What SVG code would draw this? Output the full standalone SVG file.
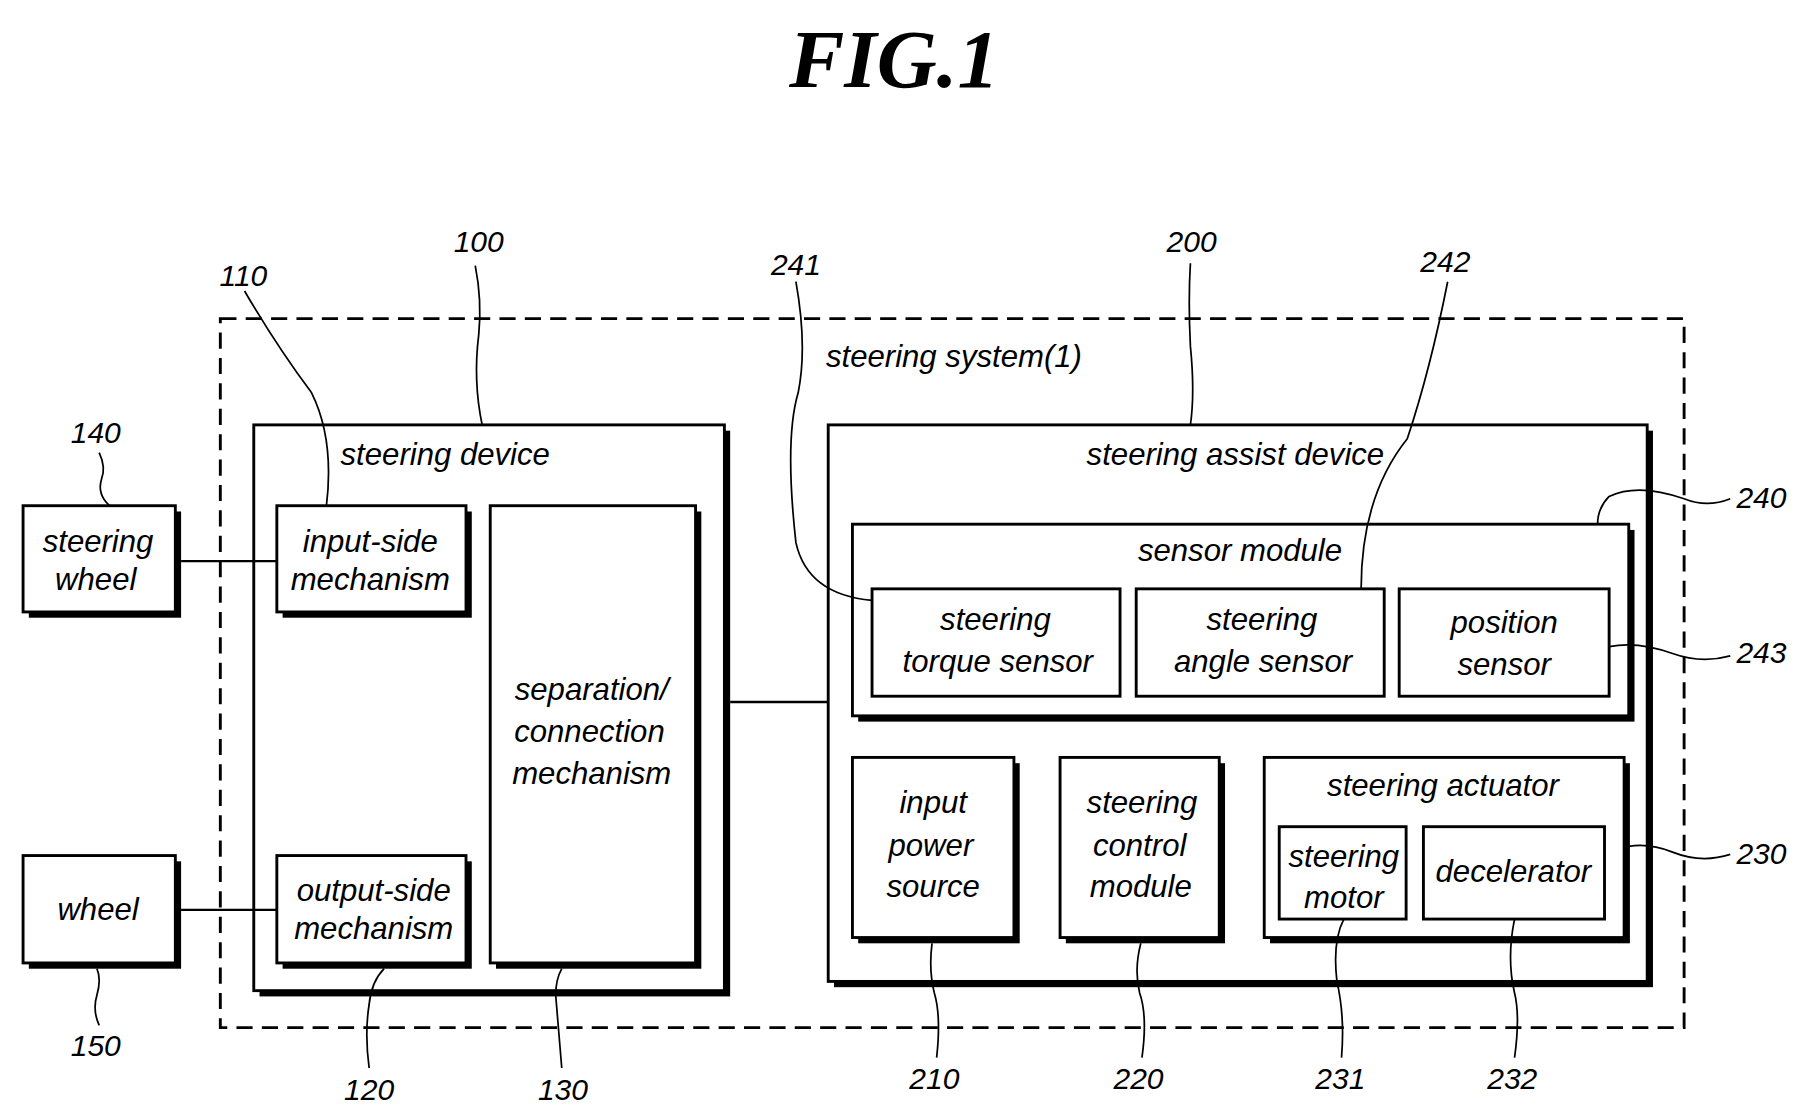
<svg xmlns="http://www.w3.org/2000/svg" width="1804" height="1120" viewBox="0 0 1804 1120">
<defs><style>
.b{fill:#fff;stroke:#000;stroke-width:2.5}
.s{fill:#000}
.t{font-family:"Liberation Sans",Arial,sans-serif;font-style:italic;font-size:27px;text-anchor:middle;fill:#000}
.n{font-family:"Liberation Sans",Arial,sans-serif;font-style:italic;font-size:26px;text-anchor:middle;fill:#000}
.l{fill:none;stroke:#000;stroke-width:1.5}
.c{fill:none;stroke:#000;stroke-width:2}
</style></defs>
<rect width="1804" height="1120" fill="#fff"/>
<g transform="scale(1.1535,1.1546)">
<text x="775" y="75" text-anchor="middle" font-family="Liberation Serif,serif" font-style="italic" font-weight="bold" font-size="72">FIG.1</text>
<g id="system"><rect x="191" y="276" width="1269" height="614" fill="none" stroke="#000" stroke-width="2.5" stroke-dasharray="14,8"/>
<text class="t" x="827" y="318">steering system(1)</text></g>
<g id="n100"><rect class="s" x="225" y="373" width="408" height="490"/><rect class="b" x="220" y="368" width="408" height="490"/><text class="t" x="386" y="403">steering device</text></g>
<g id="n110"><rect class="s" x="245" y="443" width="164" height="92"/><rect class="b" x="240" y="438" width="164" height="92"/><text class="t" x="321" y="478">input-side</text><text class="t" x="321" y="511">mechanism</text></g>
<g id="n120"><rect class="s" x="245" y="746" width="164" height="93"/><rect class="b" x="240" y="741" width="164" height="93"/><text class="t" x="324" y="780">output-side</text><text class="t" x="324" y="813">mechanism</text></g>
<g id="n130"><rect class="s" x="430" y="443" width="178" height="396"/><rect class="b" x="425" y="438" width="178" height="396"/><text class="t" x="513" y="606">separation/</text><text class="t" x="511" y="643">connection</text><text class="t" x="513" y="679">mechanism</text></g>
<g id="n140"><rect class="s" x="25" y="443" width="132" height="92"/><rect class="b" x="20" y="438" width="132" height="92"/><text class="t" x="85" y="478">steering</text><text class="t" x="83" y="511">wheel</text></g>
<g id="n150"><rect class="s" x="25" y="746" width="132" height="93"/><rect class="b" x="20" y="741" width="132" height="93"/><text class="t" x="85" y="797">wheel</text></g>
<g id="n200"><rect class="s" x="723" y="373" width="710" height="482"/><rect class="b" x="718" y="368" width="710" height="482"/><text class="t" x="1071" y="403">steering assist device</text></g>
<g id="n240"><rect class="s" x="744" y="459" width="673" height="166"/><rect class="b" x="739" y="454" width="673" height="166"/><text class="t" x="1075" y="486">sensor module</text></g>
<g id="n241"><rect class="b" x="756" y="510" width="215" height="93" stroke-width="4"/><text class="t" x="863" y="546">steering</text><text class="t" x="865" y="582">torque sensor</text></g>
<g id="n242"><rect class="b" x="985" y="510" width="215" height="93" stroke-width="4"/><text class="t" x="1094" y="546">steering</text><text class="t" x="1095" y="582">angle sensor</text></g>
<g id="n243"><rect class="b" x="1213" y="510" width="182" height="93" stroke-width="4"/><text class="t" x="1304" y="548">position</text><text class="t" x="1304" y="585">sensor</text></g>
<g id="n210"><rect class="s" x="744" y="661" width="140" height="156"/><rect class="b" x="739" y="656" width="140" height="156"/><text class="t" x="809" y="704">input</text><text class="t" x="807" y="741">power</text><text class="t" x="809" y="777">source</text></g>
<g id="n220"><rect class="s" x="924" y="661" width="138" height="156"/><rect class="b" x="919" y="656" width="138" height="156"/><text class="t" x="990" y="704">steering</text><text class="t" x="988" y="741">control</text><text class="t" x="989" y="777">module</text></g>
<g id="n230"><rect class="s" x="1101" y="661" width="312" height="156"/><rect class="b" x="1096" y="656" width="312" height="156"/><text class="t" x="1251" y="689">steering actuator</text></g>
<g id="n231"><rect class="b" x="1109" y="716" width="110" height="80" stroke-width="4"/><text class="t" x="1165" y="751" font-size="25">steering</text><text class="t" x="1165" y="786" font-size="25">motor</text></g>
<g id="n232"><rect class="b" x="1234" y="716" width="157" height="80" stroke-width="4"/><text class="t" x="1312" y="764">decelerator</text></g>
<g id="connectors">
<line class="c" x1="157" y1="486" x2="240" y2="486"/>
<line class="c" x1="157" y1="788" x2="240" y2="788"/>
<line class="c" x1="633" y1="608" x2="718" y2="608"/>
<path class="l" d="M412,230 Q418,260 415,290 Q410,330 418,368"/>
<path class="l" d="M212,252 Q240,300 270,340 Q290,380 283,438"/>
<path class="l" d="M86,392 Q92,405 88,415 Q84,428 95,438"/>
<path class="l" d="M86,888 Q80,875 84,862 Q88,848 84,839"/>
<path class="l" d="M320,925 Q316,895 320,870 Q322,850 333,839"/>
<path class="l" d="M487,925 Q484,890 482,865 Q481,850 487,839"/>
<path class="l" d="M690,244 Q700,300 692,340 Q680,380 690,470 Q700,515 756,520"/>
<path class="l" d="M1032,228 Q1030,260 1032,300 Q1036,340 1032,368"/>
<path class="l" d="M1255,244 Q1240,320 1220,380 Q1180,430 1180,510"/>
<path class="l" d="M1500,432 Q1480,440 1460,432 Q1420,418 1395,430 Q1385,440 1385,454"/>
<path class="l" d="M1500,568 Q1475,575 1450,566 Q1420,555 1395,560"/>
<path class="l" d="M1500,740 Q1475,748 1450,738 Q1430,730 1412,733"/>
<path class="l" d="M812,916 Q816,880 810,860 Q805,840 808,817"/>
<path class="l" d="M990,916 Q995,880 988,860 Q983,840 989,817"/>
<path class="l" d="M1163,916 Q1166,880 1159,850 Q1155,815 1165,796"/>
<path class="l" d="M1313,916 Q1318,880 1313,860 Q1306,830 1313,796"/>
</g>
<g id="labels">
<text class="n" x="415" y="218">100</text><text class="n" x="211" y="248">110</text><text class="n" x="83" y="384">140</text>
<text class="n" x="83" y="915">150</text><text class="n" x="320" y="953">120</text><text class="n" x="488" y="953">130</text>
<text class="n" x="690" y="238">241</text><text class="n" x="1033" y="218">200</text><text class="n" x="1253" y="236">242</text>
<text class="n" x="1527" y="440">240</text><text class="n" x="1527" y="574">243</text><text class="n" x="1527" y="748">230</text>
<text class="n" x="810" y="943">210</text><text class="n" x="987" y="943">220</text><text class="n" x="1162" y="943">231</text><text class="n" x="1311" y="943">232</text>
</g>
</g>
</svg>
